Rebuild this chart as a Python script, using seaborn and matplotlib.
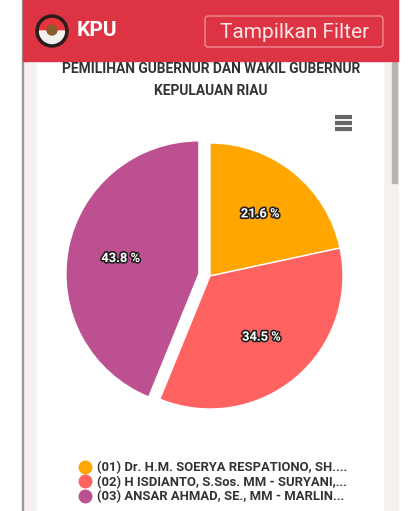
import numpy as np
import seaborn as sns
import matplotlib.pyplot as plt
import matplotlib.patheffects as pe
from matplotlib.patches import Rectangle, FancyBboxPatch, Circle, Wedge
from matplotlib.lines import Line2D

# data
candidates = [
    "(01) Dr. H.M. SOERYA RESPATIONO, SH....",
    "(02) H ISDIANTO, S.Sos. MM - SURYANI,...",
    "(03) ANSAR AHMAD, SE., MM - MARLIN...",
]
shares = [21.6, 34.5, 43.8]
colors = ["#ffa600", "#ff6361", "#bc5090"]
explode = [0, 0, 0.085]

chart_title = "PEMILIHAN GUBERNUR DAN WAKIL GUBERNUR\nKEPULAUAN RIAU"

sns.set_theme(style="white")
plt.rcParams['font.family'] = ['Roboto', 'DejaVu Sans']

W, H = 420, 511
fig = plt.figure(figsize=(W / 100, H / 100), dpi=100)

# background / app chrome in pixel coords
bg = fig.add_axes([0, 0, 1, 1])
bg.set_xlim(0, W)
bg.set_ylim(H, 0)
bg.axis('off')
bg.add_patch(Rectangle((23, 0), 375, H, color="#f6f1ef", zorder=0))
bg.add_patch(Rectangle((37, 61), 346, H, color="white", zorder=1))
bg.add_patch(Rectangle((21.5, 0), 1.5, H, color="#9a9a9a", zorder=2))
bg.add_patch(Rectangle((392, 62), 5, 121, color="#b8b2b2", zorder=2))
bg.add_patch(Rectangle((23, 0), 375, 61, color="#dd3444", zorder=3))
bg.add_patch(FancyBboxPatch((205, 16), 178, 31, boxstyle="round,pad=0,rounding_size=3",
                            facecolor="none", edgecolor="#ef8a94", lw=1, zorder=4))
bg.text(295, 32, "Tampilkan Filter", color="#fbe3e5", fontsize=15,
        ha="center", va="center", zorder=5)
bg.text(77, 31, "KPU", color="white", fontsize=15, fontweight="bold",
        ha="left", va="center", zorder=5)

# logo (rough)
bg.add_patch(Circle((52, 31), 16, color="#2b1d1d", zorder=4))
bg.add_patch(Wedge((52, 31), 12.5, 180, 360, color="#e8343c", zorder=5))
bg.add_patch(Wedge((52, 31), 12.5, 0, 180, color="#f4f0ee", zorder=5))
bg.add_patch(Circle((52, 30), 5, color="#8a5a2a", zorder=6))

# hamburger menu
for yy in (117, 123, 129):
    bg.add_line(Line2D([335, 352], [yy, yy], color="#666666", lw=3,
                       solid_capstyle="butt", zorder=5))

bg.text(211, 80, chart_title, color="#333333", fontsize=9.9, fontweight="bold",
        ha="center", va="center", linespacing=1.7, zorder=5)

# pie
R = 133
cx, cy = 210, 276
L = 1.2
side = 2 * L * R
ax = fig.add_axes([(cx - side / 2) / W, (H - cy - side / 2) / H, side / W, side / H])
wedges, _, autotexts = ax.pie(
    shares, colors=colors, explode=explode, startangle=90, counterclock=False,
    autopct="%.1f %%", pctdistance=0.6,
    wedgeprops=dict(edgecolor="white", linewidth=1),
    textprops=dict(color="white", fontsize=9.3, fontweight="bold"),
)
for t in autotexts:
    t.set_path_effects([pe.withStroke(linewidth=2.4, foreground="#222222")])
ax.set_xlim(-L, L)
ax.set_ylim(-L, L)
ax.set_aspect("equal")
ax.axis("off")

# legend
handles = [Line2D([], [], marker="o", linestyle="", markersize=9,
                  markerfacecolor=c, markeredgecolor=c) for c in colors]
leg = fig.legend(handles, candidates, loc="upper left",
                 bbox_to_anchor=(80 / W, 1 - 461 / H), frameon=False,
                 handlelength=0.8, handletextpad=0.5, labelspacing=0.1,
                 borderpad=0, borderaxespad=0,
                 prop=dict(size=9.4, weight="bold"))
for t in leg.get_texts():
    t.set_color("#333333")

fig.savefig("out.png", dpi=100)
